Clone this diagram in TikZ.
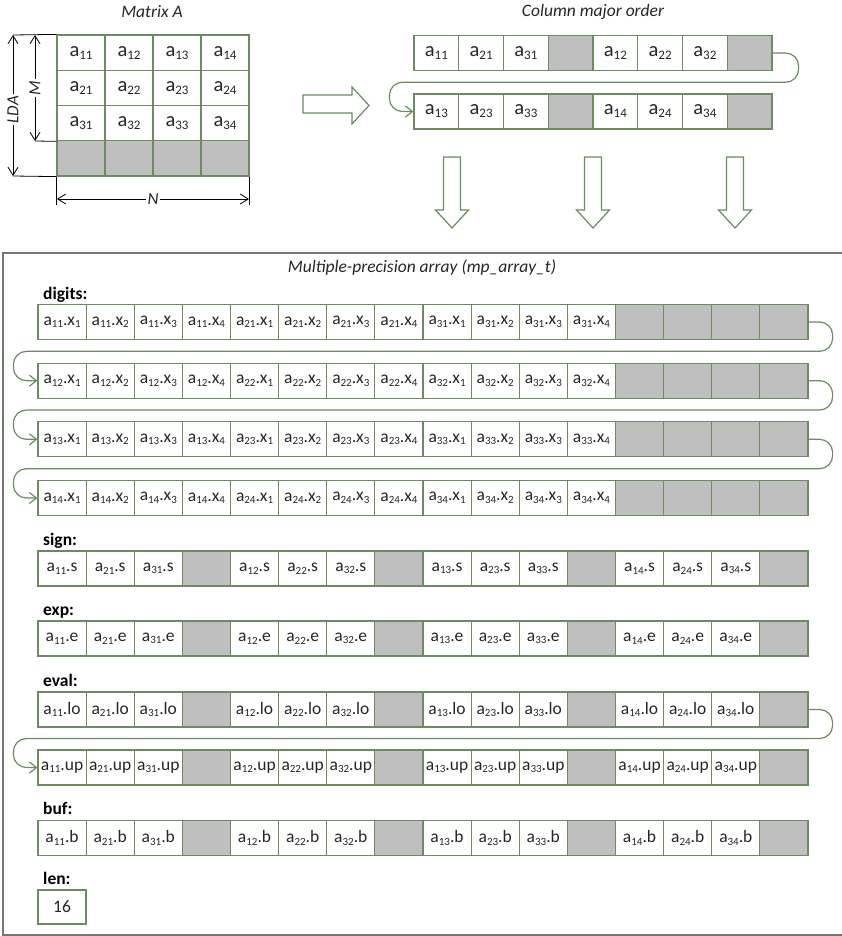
\documentclass[tikz,border=0pt]{standalone}
\usepackage{fontspec}
\setmainfont{Carlito}
\usetikzlibrary{arrows.meta,calc}
\definecolor{cellgreen}{RGB}{106,140,96}
\definecolor{cellgray}{RGB}{191,191,191}
\definecolor{txt}{RGB}{38,38,38}
\definecolor{boxgray}{RGB}{118,118,118}
\newcommand\mysub[1]{\raisebox{-2.5pt}{\fontsize{11}{12}\selectfont #1}}
\newcommand\bigsub[1]{\raisebox{-3pt}{\fontsize{13}{14}\selectfont #1}}
\newcommand\cellfnt{\fontsize{17.5}{20}\selectfont}
\newcommand\bigcellfnt{\fontsize{20.5}{23}\selectfont}
\newcommand\mpfieldrow[3]{%
  \foreach \j in {1,...,4}{%
    \foreach \i in {1,2,3}{%
      \pgfmathtruncatemacro\nn{(\j-1)*4+\i}%
      \node[dcell] (#1-\nn) at ({38+(\nn-0.5)*48.125},#2) {a\mysub{\i\j}.#3};
    }%
    \pgfmathtruncatemacro\nn{\j*4}%
    \node[dcell,fill=cellgray] (#1-\nn) at ({38+(\nn-0.5)*48.125},#2) {};
  }%
}
\begin{document}
\begin{tikzpicture}[x=1pt,y=-1pt,
  cell/.style={draw=cellgreen,line width=1.2pt,fill=white,minimum height=35pt,inner sep=0pt,font=\cellfnt,text=txt},
  mcell/.style={cell,minimum width=48pt,minimum height=35.25pt,font=\bigcellfnt},
  ccell/.style={cell,minimum width=44.75pt,font=\bigcellfnt},
  dcell/.style={cell,minimum width=48.125pt},
  lbl/.style={font=\fontsize{17.5}{20}\selectfont\bfseries,anchor=base west,inner sep=0pt,text=black},
  ttl/.style={font=\fontsize{17.5}{20}\selectfont\itshape,text=txt,inner sep=0pt},
  loopline/.style={draw=cellgreen,line width=1.2pt,rounded corners=13pt,-{Straight Barb[length=7pt,width=11pt]}},
  blockarrow/.style={draw=cellgreen,line width=1.2pt,fill=white,line join=miter},
  dim/.style={draw=black,line width=0.8pt},
  dimarrow/.style={dim,{Straight Barb[length=8pt,width=10pt]}-{Straight Barb[length=8pt,width=10pt]}},
  dimlbl/.style={font=\fontsize{17}{19}\selectfont\itshape,fill=white,inner sep=2pt,text=txt}
]
\useasboundingbox (0,0) rectangle (841,936);

% ---------- Matrix A ----------
\node[ttl] (tA) at (152,12) {Matrix A};
\foreach \i in {1,2,3}{
  \foreach \j in {1,...,4}{
    \node[mcell] (m\i\j) at ({57+(\j-0.5)*48},{35+(\i-0.5)*35.25}) {a\bigsub{\i\j}};
  }
}
\foreach \j in {1,...,4}{
  \node[mcell,fill=cellgray] (m4\j) at ({57+(\j-0.5)*48},{35+3.5*35.25}) {};
}
% dimensions
\coordinate (ldaT) at (13,35);
\coordinate (ldaB) at (13,176);
\coordinate (mT) at (35,35);
\coordinate (mB) at (35,141);
\coordinate (nL) at (57,199);
\coordinate (nR) at (249,199);
\draw[dim] (ldaT) -- (m11.north west);
\draw[dim] (ldaB) -- (m41.south west);
\draw[dim] (mB) -- (m31.south west);
\draw[dim] (m41.south west) -- ++(0,28);
\draw[dim] (m44.south east) -- ++(0,28);
\draw[dimarrow] (ldaT) -- (ldaB) node[pos=0.53,dimlbl,rotate=90] {LDA};
\draw[dimarrow] (mT) -- (mB) node[pos=0.5,dimlbl,rotate=90] {M};
\draw[dimarrow] (nL) -- (nR) node[pos=0.5,dimlbl] {N};

% ---------- arrow right ----------
\draw[blockarrow] (303,95) -- (352,95) -- (352,87) -- (369,105.5) -- (352,124) -- (352,113) -- (303,113) -- cycle;

% ---------- Column major order ----------
\node[ttl] (tC) at (593,12) {Column major order};
\foreach \j in {1,2}{
  \foreach \i in {1,2,3}{
    \pgfmathtruncatemacro\nn{(\j-1)*4+\i}
    \node[ccell] (c1-\nn) at ({414+(\nn-0.5)*44.75},53) {a\bigsub{\i\j}};
  }
}
\foreach \j in {3,4}{
  \foreach \i in {1,2,3}{
    \pgfmathtruncatemacro\nn{(\j-3)*4+\i}
    \node[ccell] (c2-\nn) at ({414+(\nn-0.5)*44.75},111.5) {a\bigsub{\i\j}};
  }
}
\foreach \nn in {4,8}{
  \node[ccell,fill=cellgray] (c1-\nn) at ({414+(\nn-0.5)*44.75},53) {};
  \node[ccell,fill=cellgray] (c2-\nn) at ({414+(\nn-0.5)*44.75},111.5) {};
}
\draw[loopline] (c1-8.east) -- ++(26,0) -- ++(0,29.25) -| ([xshift=-24pt]c2-1.west) -- (c2-1.west);

% ---------- down arrows ----------
\foreach \cx in {452,593,735}{
  \draw[blockarrow] (\cx-8.5,157) -- (\cx+8.5,157) -- (\cx+8.5,210) -- (\cx+16.5,210) -- (\cx,228) -- (\cx-16.5,210) -- (\cx-8.5,210) -- cycle;
}

% ---------- Multiple-precision array ----------
\draw[boxgray,line width=1.2pt] (845,253) -- (3,253) -- (3,935) -- (845,935);
\node[ttl] (tM) at (422,268) {Multiple-precision array (mp\_array\_t)};

\node[lbl] (ldig) at (43,299) {digits:};
\foreach \j in {1,...,4}{
  \pgfmathsetmacro\yy{322+(\j-1)*58.67}
  \foreach \i in {1,2,3}{
    \foreach \k in {1,...,4}{
      \pgfmathtruncatemacro\nn{(\i-1)*4+\k}
      \node[dcell] (d\j-\nn) at ({38+(\nn-0.5)*48.125},\yy) {a\mysub{\i\j}.x\mysub{\k}};
    }
  }
  \foreach \nn in {13,...,16}{
    \node[dcell,fill=cellgray] (d\j-\nn) at ({38+(\nn-0.5)*48.125},\yy) {};
  }
}
\foreach \j [evaluate=\j as \jn using int(\j+1)] in {1,2,3}{
  \draw[loopline] (d\j-16.east) -- ++(24,0) -- ++(0,29.33) -| ([xshift=-24pt]d\jn-1.west) -- (d\jn-1.west);
}

\node[lbl] (lsign) at (43,545) {sign:};
\mpfieldrow{s}{568.5}{s}
\node[lbl] (lexp) at (43,615) {exp:};
\mpfieldrow{e}{638.5}{e}
\node[lbl] (leval) at (43,686) {eval:};
\mpfieldrow{lo}{709.5}{lo}
\mpfieldrow{up}{767.5}{up}
\draw[loopline] (lo-16.east) -- ++(24,0) -- ++(0,29) -| ([xshift=-24pt]up-1.west) -- (up-1.west);
\node[lbl] (lbuf) at (43,814) {buf:};
\mpfieldrow{b}{838}{b}
\node[lbl] (llen) at (43,884) {len:};
\node[dcell,minimum width=48pt,minimum height=34pt] (len) at (62,907) {16};
\end{tikzpicture}
\end{document}
